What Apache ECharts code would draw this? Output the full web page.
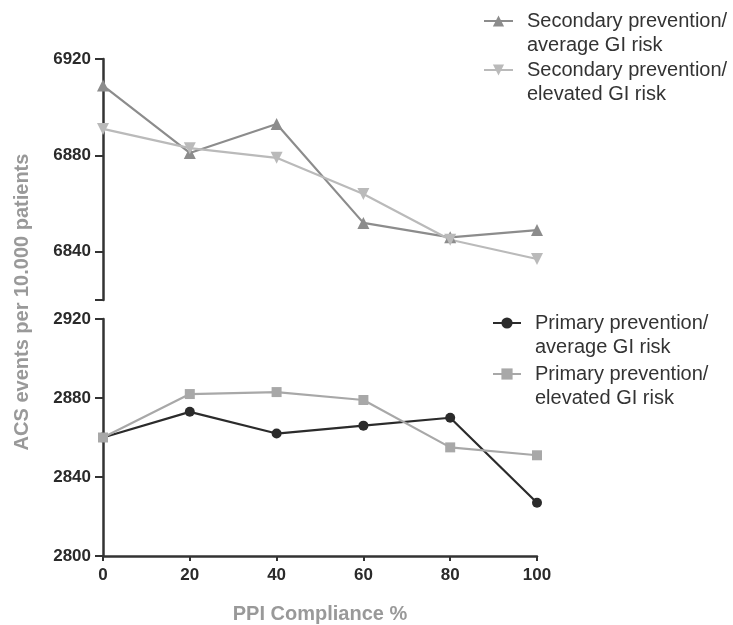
<!DOCTYPE html>
<html>
<head>
<meta charset="utf-8">
<script src="https://cdn.jsdelivr.net/npm/echarts@6/dist/echarts.min.js"></script>
<style>
  html, body { margin: 0; padding: 0; background: #fff; }
  #chart { width: 733px; height: 625px; }
</style>
</head>
<body>
<div id="chart"></div>
<script>
// PPI compliance levels (x axis)
const compliance = [0, 20, 40, 60, 80, 100];

// Secondary prevention cohorts (upper panel)
const secondaryAverage = [6909, 6881, 6893, 6852, 6846, 6849];
const secondaryElevated = [6891, 6883, 6879, 6864, 6845, 6837];

// Primary prevention cohorts (lower panel)
const primaryAverage = [2860, 2873, 2862, 2866, 2870, 2827];
const primaryElevated = [2860, 2882, 2883, 2879, 2855, 2851];

// Tick labels
const xTicks = [0, 20, 40, 60, 80, 100];
const upperTicks = [6840, 6880, 6920];
const lowerTicks = [2800, 2840, 2880, 2920];

const font = 'Arial, "Liberation Sans", Helvetica, sans-serif';
const pairs = (ys) => compliance.map((x, i) => [x, ys[i]]);
const plain = (v) => String(v);

const tickLabel = { fontFamily: font, fontSize: 17, fontWeight: 'bold', color: '#2a2a2a', formatter: plain };
const axisLineStyle = { color: '#333', width: 2.5 };

// Legend text: a leading blank line keeps the first text line level with the icon
const legendText = {
  fontFamily: font, fontSize: 20, color: '#333', lineHeight: 24,
  padding: [0, 0, 0, 9]
};
const legendFormatter = (name) => '\n' + name;

const chart = echarts.init(document.getElementById('chart'), null, { renderer: 'canvas' });

chart.setOption({
  animation: false,
  backgroundColor: '#fff',
  grid: [
    { left: 103, top: 59, width: 434, height: 241 },
    { left: 103, top: 319, width: 434, height: 237 }
  ],
  xAxis: [
    { gridIndex: 0, type: 'value', min: 0, max: 100, interval: 20, show: false },
    {
      gridIndex: 1, type: 'value', min: 0, max: 100, interval: 20,
      axisLine: { show: true, lineStyle: axisLineStyle },
      axisTick: { show: true, length: 5, customValues: xTicks, lineStyle: { color: '#333', width: 2 } },
      axisLabel: Object.assign({ margin: 11, customValues: xTicks }, tickLabel),
      splitLine: { show: false },
      name: 'PPI Compliance %',
      nameLocation: 'middle',
      nameGap: 48,
      nameTextStyle: { fontFamily: font, fontSize: 20, fontWeight: 'bold', color: '#999' }
    }
  ],
  yAxis: [
    {
      gridIndex: 0, type: 'value', min: 6820, max: 6920,
      axisLine: { show: true, lineStyle: axisLineStyle },
      axisTick: { show: true, length: 8, customValues: [6820].concat(upperTicks), lineStyle: { color: '#333', width: 2 } },
      axisLabel: Object.assign({ margin: 12, customValues: upperTicks }, tickLabel),
      splitLine: { show: false }
    },
    {
      gridIndex: 1, type: 'value', min: 2800, max: 2920,
      axisLine: { show: true, lineStyle: axisLineStyle },
      axisTick: { show: true, length: 8, customValues: lowerTicks, lineStyle: { color: '#333', width: 2 } },
      axisLabel: Object.assign({ margin: 12, customValues: lowerTicks }, tickLabel),
      splitLine: { show: false }
    }
  ],
  legend: [
    {
      data: ['Secondary prevention/\naverage GI risk', 'Secondary prevention/\nelevated GI risk'],
      orient: 'vertical', left: 483, top: -15, padding: 0,
      itemWidth: 29, itemHeight: 14, itemGap: -23,
      formatter: legendFormatter,
      textStyle: legendText
    },
    {
      data: ['Primary prevention/\naverage GI risk', 'Primary prevention/\nelevated GI risk'],
      orient: 'vertical', left: 492, top: 287, padding: 0,
      itemWidth: 28, itemHeight: 14, itemGap: -21,
      formatter: legendFormatter,
      textStyle: legendText
    }
  ],
  graphic: [
    {
      type: 'text',
      x: 22, y: 302,
      rotation: Math.PI / 2,
      style: {
        text: 'ACS events per 10.000 patients',
        font: 'bold 20px ' + font,
        fill: '#999',
        align: 'center',
        verticalAlign: 'middle'
      }
    }
  ],
  series: [
    {
      name: 'Secondary prevention/\naverage GI risk',
      type: 'line', xAxisIndex: 0, yAxisIndex: 0,
      data: pairs(secondaryAverage),
      symbol: 'triangle', symbolSize: 12,
      lineStyle: { color: '#8c8c8c', width: 2.2 },
      itemStyle: { color: '#8c8c8c' }
    },
    {
      name: 'Secondary prevention/\nelevated GI risk',
      type: 'line', xAxisIndex: 0, yAxisIndex: 0,
      data: pairs(secondaryElevated),
      symbol: 'triangle', symbolRotate: 180, symbolSize: 12,
      lineStyle: { color: '#bababa', width: 2.2 },
      itemStyle: { color: '#bababa' }
    },
    {
      name: 'Primary prevention/\naverage GI risk',
      type: 'line', xAxisIndex: 1, yAxisIndex: 1,
      data: pairs(primaryAverage),
      symbol: 'circle', symbolSize: 10,
      lineStyle: { color: '#2b2b2b', width: 2.2 },
      itemStyle: { color: '#2b2b2b' }
    },
    {
      name: 'Primary prevention/\nelevated GI risk',
      type: 'line', xAxisIndex: 1, yAxisIndex: 1,
      data: pairs(primaryElevated),
      symbol: 'rect', symbolSize: 10,
      lineStyle: { color: '#a8a8a8', width: 2.2 },
      itemStyle: { color: '#a8a8a8' }
    }
  ]
});
</script>
</body>
</html>
